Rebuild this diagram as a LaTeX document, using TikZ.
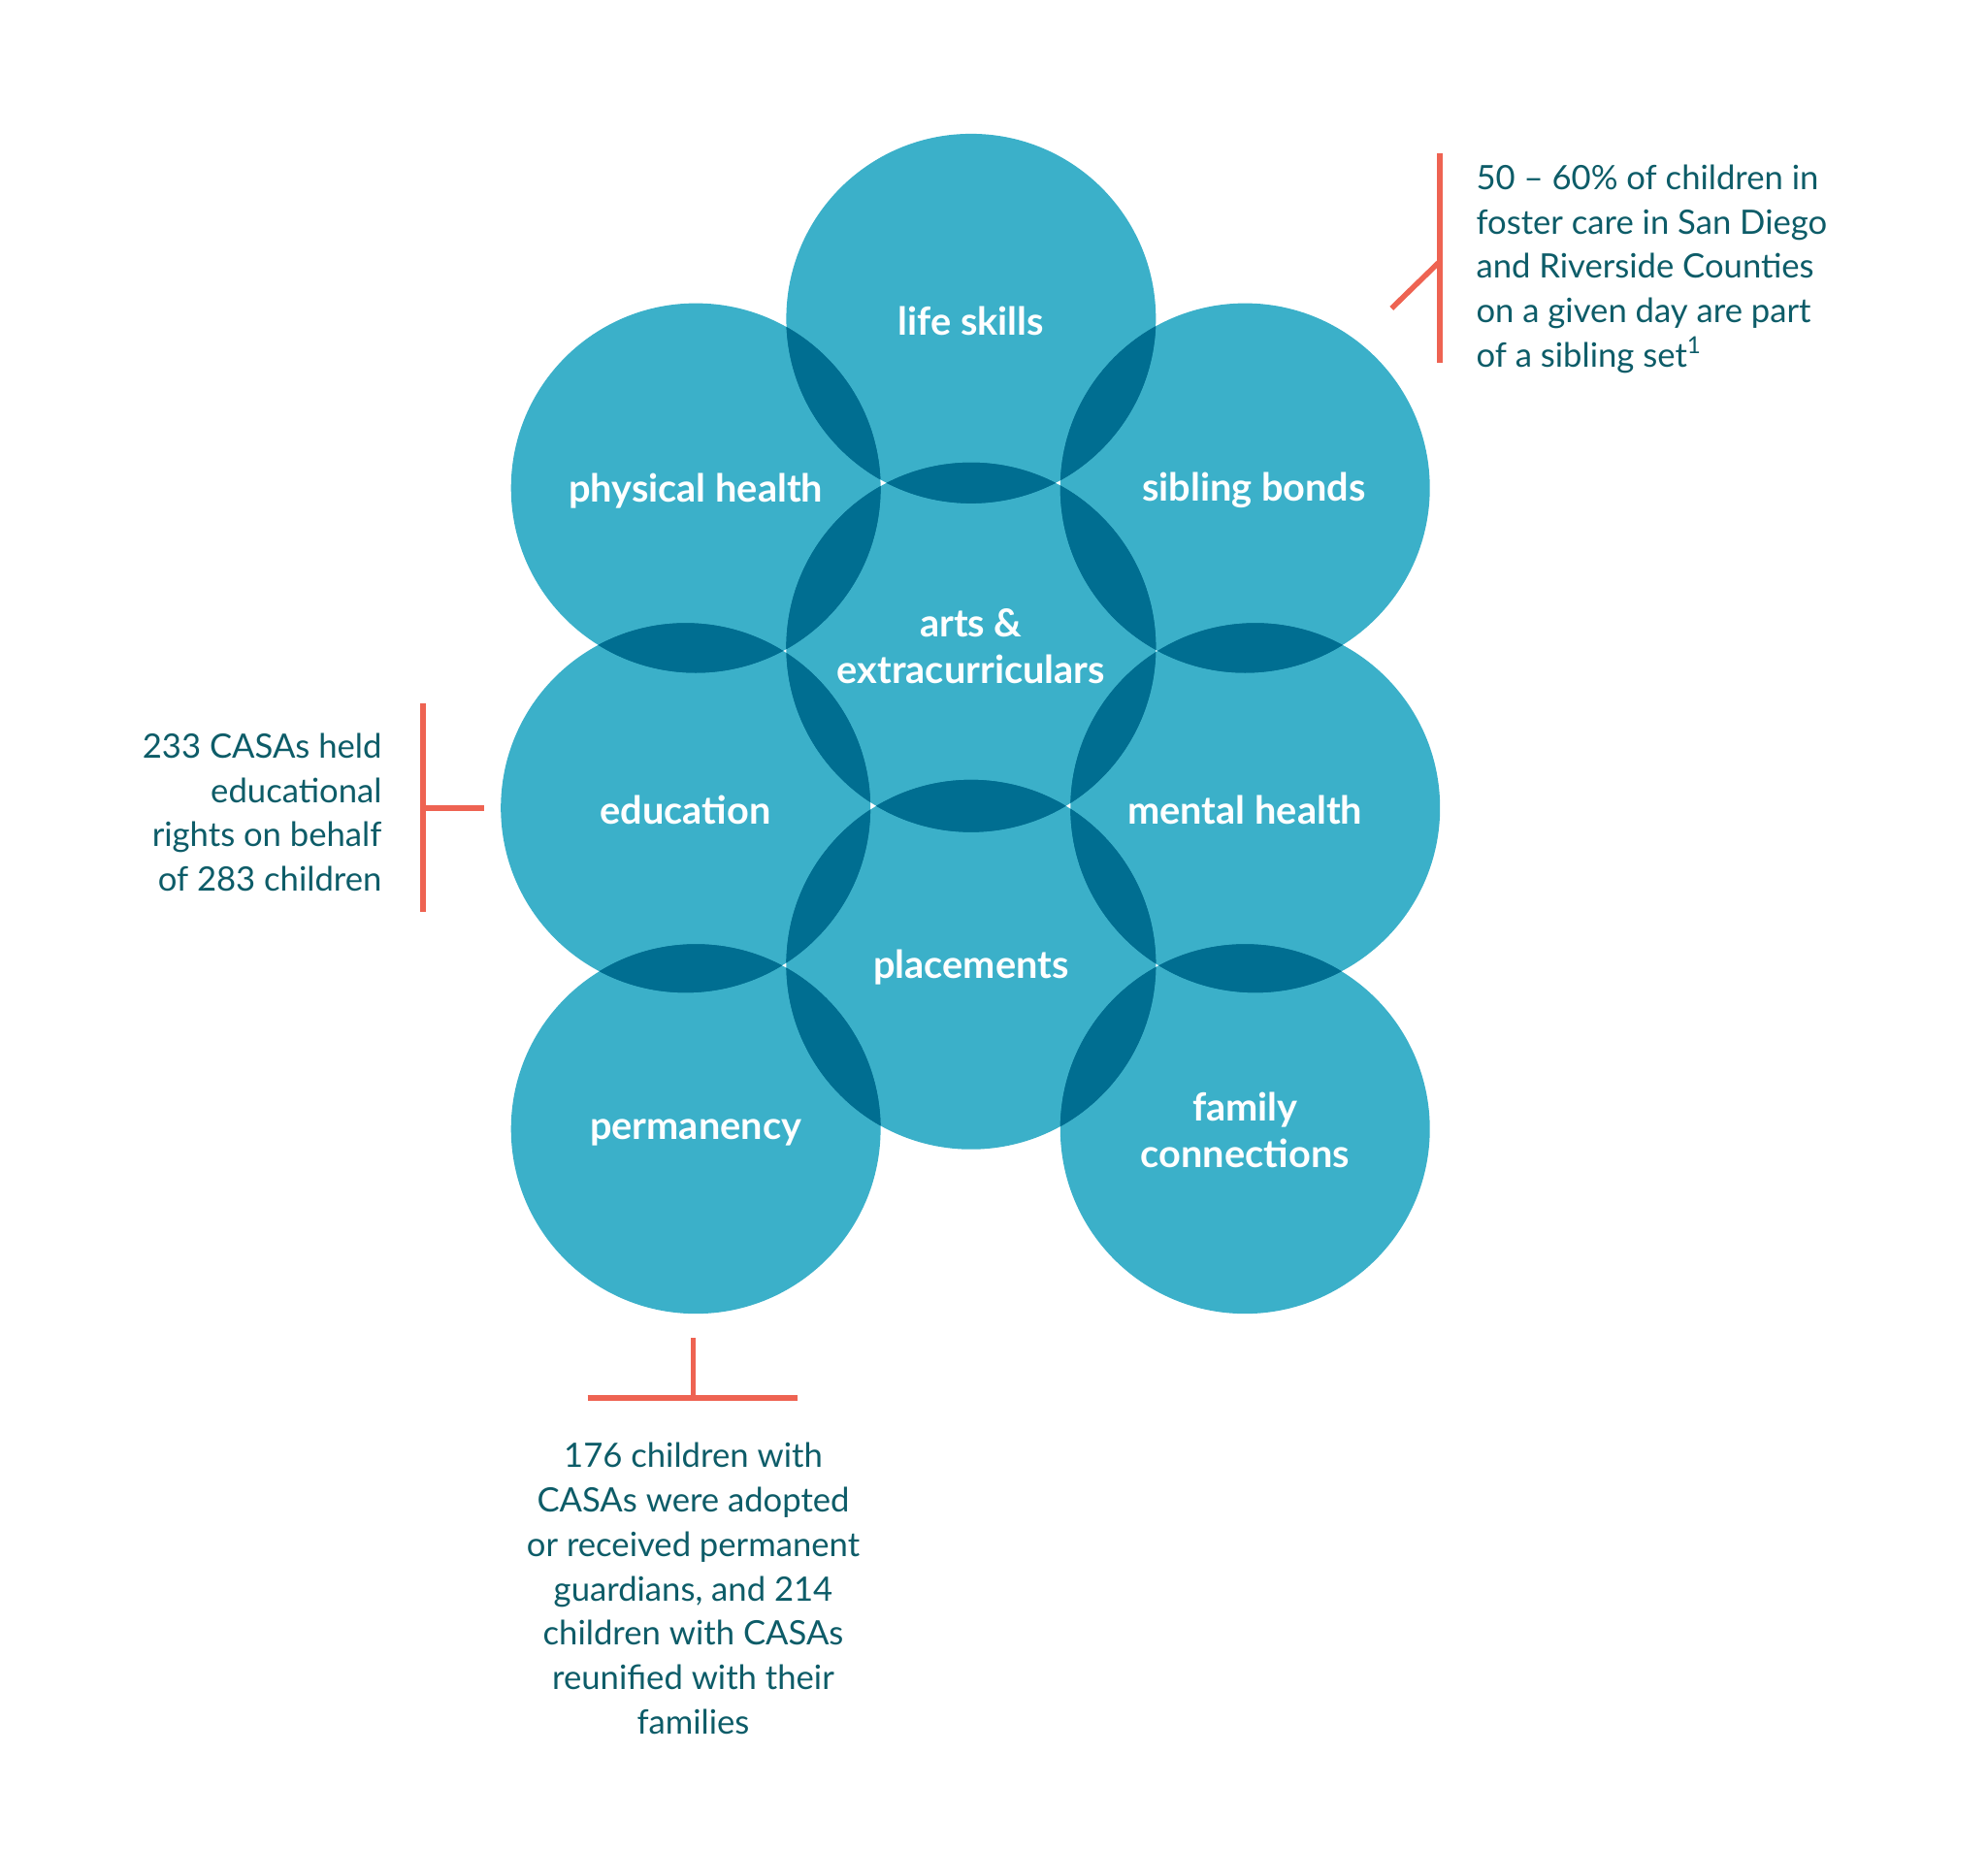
\documentclass[tikz,border=0pt]{standalone}
\usepackage{fontspec}
\setmainfont{Lato}
\definecolor{light}{HTML}{3BB0C9}
\definecolor{dark}{HTML}{006E91}
\definecolor{tealtext}{HTML}{0D5C68}
\definecolor{redline}{HTML}{EE6352}
\begin{document}
\begin{tikzpicture}[x=0.01cm,y=-0.01cm,
  lab/.style={text=white,font=\bfseries\fontsize{8.6}{10.5}\selectfont,align=center},
  note/.style={text=tealtext,font=\fontsize{7.5}{9.9}\selectfont},
  bar/.style={draw=redline,line width=1.2pt}]
\useasboundingbox (0,0) rectangle (1560,1452);
\def\R{145}
\def\circs{762/250,546/383,977/383,762/508,538/634,985/634,762/757,546/886,977/886}
\foreach \x/\y in \circs { \fill[light] (\x,\y) circle (\R); }
\foreach \x/\y in \circs {
  \foreach \u/\v in \circs {
    \begin{scope}
      \clip (\x,\y) circle (\R);
      \ifdim \x pt=\u pt \ifdim \y pt=\v pt \else \fill[dark] (\u,\v) circle (\R); \fi
      \else \fill[dark] (\u,\v) circle (\R); \fi
    \end{scope}
  }
}
\node[lab] (ls) at (762,252) {life skills};
\node[lab] (ph) at (546,385) {physical health};
\node[lab] (sb) at (984,385) {sibling bonds};
\node[lab] (ar) at (762,507) {arts \&\\extracurriculars};
\node[lab] (ed) at (538,636) {education};
\node[lab] (mh) at (977,636) {mental health};
\node[lab] (pl) at (762,759) {placements};
\node[lab] (pe) at (546,889) {permanency};
\node[lab] (fc) at (977,887) {family\\connections};
% top right annotation
\coordinate (t1) at (1130,120); \coordinate (t2) at (1130,285);
\coordinate (t3) at (1130,205); \coordinate (t4) at (1092,242);
\draw[bar] (t1) -- (t2); \draw[bar] (t3) -- (t4);
\node[note,anchor=north west,align=left] (n1) at (1146,117) {50 – 60\% of children in\\foster care in San Diego\\and Riverside Counties\\on a given day are part\\of a sibling set\textsuperscript{1}};
% left annotation
\coordinate (l1) at (332,552); \coordinate (l2) at (332,716);
\coordinate (l3) at (332,634); \coordinate (l4) at (380,634);
\draw[bar] (l1) -- (l2); \draw[bar] (l3) -- (l4);
\node[note,anchor=north east,align=right] (n2) at (312,563) {233 CASAs held\\educational\\rights on behalf\\of 283 children};
% bottom annotation
\coordinate (b1) at (544,1050); \coordinate (b2) at (544,1097);
\coordinate (b3) at (461,1097); \coordinate (b4) at (626,1097);
\draw[bar] (b1) -- (b2); \draw[bar] (b3) -- (b4);
\node[note,anchor=north,align=center] (n3) at (544,1120) {176 children with\\CASAs were adopted\\or received permanent\\guardians, and 214\\children with CASAs\\reunified with their\\families};
\end{tikzpicture}
\end{document}
